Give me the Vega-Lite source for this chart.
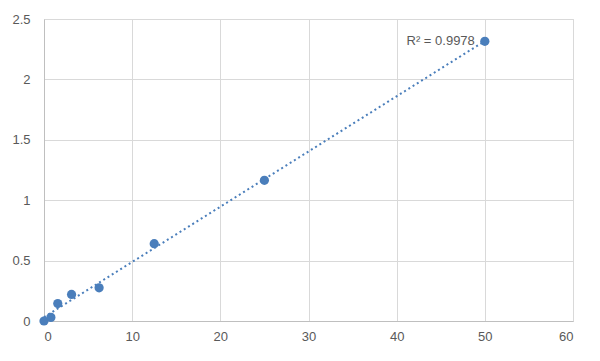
{
  "$schema": "https://vega.github.io/schema/vega-lite/v6.json",
  "width": 529,
  "height": 302,
  "autosize": "none",
  "padding": {"left": 44, "top": 19, "right": 27, "bottom": 40},
  "background": "white",
  "config": {
    "view": {"stroke": "#d9d9d9", "strokeWidth": 1},
    "font": "Liberation Sans"
  },
  "data": {
    "values": [
      {"x": 0, "y": 0.0},
      {"x": 0.78, "y": 0.03},
      {"x": 1.56, "y": 0.144},
      {"x": 3.125, "y": 0.22},
      {"x": 6.25, "y": 0.275},
      {"x": 12.5, "y": 0.64},
      {"x": 25, "y": 1.165},
      {"x": 50, "y": 2.315}
    ]
  },
  "layer": [
    {
      "transform": [{"regression": "y", "on": "x"}],
      "mark": {"type": "line", "color": "#4a7ebb", "strokeWidth": 2, "strokeDash": [2, 3]},
      "encoding": {
        "x": {"field": "x", "type": "quantitative"},
        "y": {"field": "y", "type": "quantitative"}
      }
    },
    {
      "mark": {"type": "circle", "color": "#4a7ebb", "opacity": 1, "size": 85},
      "encoding": {
        "x": {
          "field": "x", "type": "quantitative",
          "scale": {"domain": [0, 60], "nice": false, "zero": true},
          "axis": {
            "title": null, "values": [0, 10, 20, 30, 40, 50, 60],
            "grid": true, "gridColor": "#d9d9d9", "domainColor": "#bfbfbf", "domainWidth": 1,
            "ticks": false, "labelColor": "#595959", "labelFontSize": 13, "labelPadding": 9
          }
        },
        "y": {
          "field": "y", "type": "quantitative",
          "scale": {"domain": [0, 2.5], "nice": false},
          "axis": {
            "title": null, "values": [0, 0.5, 1, 1.5, 2, 2.5], "format": "~g",
            "grid": true, "gridColor": "#d9d9d9", "domainColor": "#bfbfbf", "domainWidth": 1,
            "ticks": false, "labelColor": "#595959", "labelFontSize": 13, "labelPadding": 14
          }
        }
      }
    },
    {
      "data": {"values": [{"x": 50, "y": 2.315, "label": "R² = 0.9978"}]},
      "mark": {"type": "text", "align": "right", "baseline": "middle", "dx": -10, "dy": 0, "color": "#595959", "fontSize": 13},
      "encoding": {
        "x": {"field": "x", "type": "quantitative"},
        "y": {"field": "y", "type": "quantitative"},
        "text": {"field": "label"}
      }
    }
  ]
}
